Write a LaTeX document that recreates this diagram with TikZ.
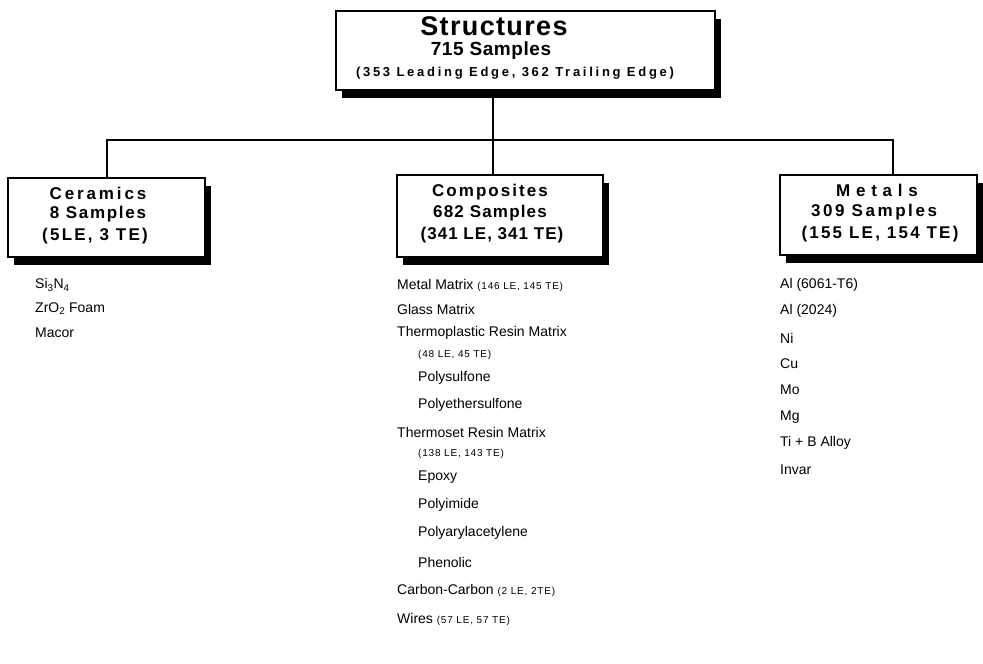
\documentclass[tikz,border=0pt]{standalone}
\usepackage{fontspec}
\setmainfont{Liberation Sans}
\usetikzlibrary{shadows}
\newcommand\lsp[2]{{\addfontfeatures{LetterSpace=#1}#2}}
\newcommand\fsz[1]{\fontsize{#1}{#1}\selectfont}
\begin{document}
\begin{tikzpicture}[x=1pt,y=-1pt,
  box/.style={draw, line width=2pt, fill=white, inner sep=0pt,
    drop shadow={shadow xshift=6pt, shadow yshift=-8pt, opacity=1, fill=black}},
  conn/.style={line width=2pt, line join=miter},
  head/.style={font=\bfseries, inner sep=0pt},
  item/.style={anchor=west, inner sep=0pt, font=\fsz{14}},
  small/.style={anchor=west, inner sep=0pt, font=\fsz{10}}]
\useasboundingbox (0,0) rectangle (983,664);

% boxes
\node[box, minimum width=379pt, minimum height=79pt] (top) at (525.5,50) {};
\node[box, minimum width=197pt, minimum height=79pt] (cer) at (106.5,217.5) {};
\node[box, minimum width=206pt, minimum height=82pt] (comp) at (500,216) {};
\node[box, minimum width=197pt, minimum height=80pt] (met) at (878.5,215) {};

% connectors
\coordinate (j) at (493,140);
\coordinate (dc) at (107,140);
\coordinate (dm) at (893,140);
\draw[conn] (top.south -| j) -- (comp.north -| j);
\draw[conn] (cer.north -| dc) -- (dc) -- (dm) -- (met.north -| dm);

% box texts
\node[head, font=\bfseries\fsz{27}] (t1) at (494,26) {\lsp{5}{Structures}};
\node[head, font=\bfseries\fsz{19}] (t2) at (491,51) {\lsp{3}{715 Samples}};
\node[head, font=\bfseries\fsz{13}] (t3) at (515,73) {\lsp{21}{(353 Leading Edge, 362 Trailing Edge)}};

\node[head, font=\bfseries\fsz{17}] (c1) at (98,193) {\lsp{17}{Ceramics}};
\node[head, font=\bfseries\fsz{17}] (c2) at (98,214) {\lsp{10}{8 Samples}};
\node[head, font=\bfseries\fsz{17}] (c3) at (95,236) {\lsp{13}{(5LE, 3 TE)}};

\node[head, font=\bfseries\fsz{17}] (p1) at (490,192) {\lsp{12}{Composites}};
\node[head, font=\bfseries\fsz{17}] (p2) at (490,213) {\lsp{7}{682 Samples}};
\node[head, font=\bfseries\fsz{17}] (p3) at (492,235) {\lsp{6}{(341 LE, 341 TE)}};

\node[head, font=\bfseries\fsz{17}] (m1) at (877,190) {\lsp{34}{Metals}};
\node[head, font=\bfseries\fsz{17}] (m2) at (874,212) {\lsp{15}{309 Samples}};
\node[head, font=\bfseries\fsz{17}] (m3) at (880,234) {\lsp{13}{(155 LE, 154 TE)}};

% ceramics list
\node[item] (ce1) at (35,285) {Si\textsubscript{3}N\textsubscript{4}};
\node[item] (ce2) at (35,309) {ZrO\textsubscript{2} Foam};
\node[item] (ce3) at (35,333) {Macor};

% composites list
\node[item] (co1) at (397,285) {Metal Matrix {\fsz{10}\lsp{8}{(146 LE, 145 TE)}}};
\node[item] (co2) at (397,309) {Glass Matrix};
\node[item] (co3) at (397,333) {Thermoplastic Resin Matrix};
\node[small] (co4) at (418,355) {\lsp{8}{(48 LE, 45 TE)}};
\node[item] (co5) at (418,378) {Polysulfone};
\node[item] (co6) at (418,405) {Polyethersulfone};
\node[item] (co7) at (397,432) {Thermoset Resin Matrix};
\node[small] (co8) at (418,454) {\lsp{8}{(138 LE, 143 TE)}};
\node[item] (co9) at (418,477) {Epoxy};
\node[item] (co10) at (418,505) {Polyimide};
\node[item] (co11) at (418,533) {Polyarylacetylene};
\node[item] (co12) at (418,562) {Phenolic};
\node[item] (co13) at (397,590) {Carbon-Carbon {\fsz{10}\lsp{8}{(2 LE, 2TE)}}};
\node[item] (co14) at (397,619) {Wires {\fsz{10}\lsp{8}{(57 LE, 57 TE)}}};

% metals list
\node[item] (me1) at (780,285) {Al (6061-T6)};
\node[item] (me2) at (780,311) {Al (2024)};
\node[item] (me3) at (780,338) {Ni};
\node[item] (me4) at (780,364) {Cu};
\node[item] (me5) at (780,390) {Mo};
\node[item] (me6) at (780,417) {Mg};
\node[item] (me7) at (780,443) {Ti + B Alloy};
\node[item] (me8) at (780,470) {Invar};
\end{tikzpicture}
\end{document}
